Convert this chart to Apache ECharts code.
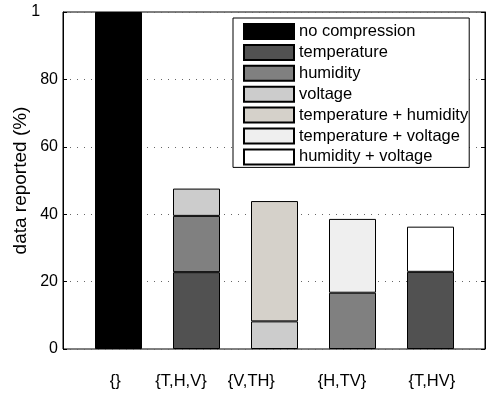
<!DOCTYPE html>
<html>
<head>
<meta charset="utf-8">
<script src="https://cdn.jsdelivr.net/npm/echarts@6/dist/echarts.min.js"></script>
<style>html,body{margin:0;padding:0;background:#fff}#c{width:486px;height:394px}</style>
</head>
<body>
<div id="c"></div>
<script>
// ---- data ----
const categories = ['{}', '{T,H,V}', '{V,TH}', '{H,TV}', '{T,HV}'];
const seriesNames = ['no compression', 'temperature', 'humidity', 'voltage',
  'temperature + humidity', 'temperature + voltage', 'humidity + voltage'];
const noCompression = [100, null, null, null, null];
const temperature   = [null, 22.8, null, null, 22.9];
const humidity      = [null, 16.7, null, 16.7, null];
const voltage       = [null, 8.1, 8.2, null, null];
const tempHumidity  = [null, null, 35.7, null, null];
const tempVoltage   = [null, null, null, 21.9, null];
const humVoltage    = [null, null, null, null, 13.4];
const yTicks = [0, 20, 40, 60, 80, 100];
// label anchor positions along the frame's x scale (bar k sits at k)
const xLabelAt = [0.97, 1.81, 2.71, 3.87, 5.02];

const seriesValues = [noCompression, temperature, humidity, voltage, tempHumidity, tempVoltage, humVoltage];
const colors = ['#000000', '#515151', '#808080', '#cccccc', '#d5d1ca', '#efefef', '#ffffff'];
const FONT = 'Liberation Sans, Arial, Helvetica, sans-serif';

const chart = echarts.init(document.getElementById('c'), null, {renderer: 'canvas'});
chart.setOption({
  animation: false,
  backgroundColor: '#fff',
  textStyle: {fontFamily: FONT},
  grid: [
    // frame / axes grid
    {left: 63, right: 1, top: 12, bottom: 45, show: true, borderColor: '#000', borderWidth: 1, containLabel: false},
    // bar grid (x range 0.5..5.5 of the frame scale 0.3..5.7)
    {left: 79.5, width: 390, top: 12, bottom: 45, containLabel: false}
  ],
  legend: {
    orient: 'vertical', left: 233, top: 18,
    data: seriesNames,
    icon: 'rect', itemWidth: 50, itemHeight: 15, itemGap: 3.9,
    padding: [5, 1, 2, 10],
    borderColor: '#000', borderWidth: 1, backgroundColor: '#fff',
    textStyle: {fontSize: 16.5, color: '#000', fontFamily: FONT}
  },
  xAxis: [{
    gridIndex: 0, type: 'value', min: 0.3, max: 5.7,
    axisLine: {show: false}, axisTick: {show: false}, splitLine: {show: false},
    axisLabel: {
      customValues: xLabelAt, fontSize: 16.5, color: '#000', margin: 24, fontFamily: FONT,
      formatter: function (v) {
        let best = 0, d = 1e9;
        xLabelAt.forEach(function (p, i) { if (Math.abs(p - v) < d) { d = Math.abs(p - v); best = i; } });
        return categories[best];
      }
    }
  }, {
    gridIndex: 1, type: 'category', data: categories, boundaryGap: true,
    axisLine: {show: false}, axisTick: {show: false}, axisLabel: {show: false}, splitLine: {show: false}
  }],
  yAxis: [{
    gridIndex: 0, type: 'value', min: 0, max: 100, interval: 20,
    name: 'data reported (%)', nameLocation: 'middle', nameGap: 33, nameMoveOverlap: false,
    nameTextStyle: {fontSize: 19, color: '#000', fontFamily: FONT},
    axisLine: {show: true, lineStyle: {color: '#000'}},
    axisTick: {show: true, inside: true, length: 4, lineStyle: {color: '#000'}},
    splitLine: {show: true, lineStyle: {color: '#666', type: [1, 6], width: 1}},
    axisLabel: {
      fontSize: 16, color: '#000', margin: 5, fontFamily: FONT,
      formatter: function (v) { return v === 100 ? '{a|1}{h|00}' : String(v); },
      rich: {a: {fontSize: 16, color: '#000', fontFamily: FONT}, h: {fontSize: 16, color: 'rgba(0,0,0,0)', fontFamily: FONT}}
    }
  }, {
    gridIndex: 0, type: 'value', min: 0, max: 100, interval: 20, position: 'right',
    axisLine: {show: true, lineStyle: {color: '#000'}},
    axisTick: {show: true, inside: true, length: 4, lineStyle: {color: '#000'}},
    axisLabel: {show: false}, splitLine: {show: false}
  }, {
    gridIndex: 1, type: 'value', min: 0, max: 100, interval: 20,
    axisLine: {show: false}, axisTick: {show: false}, axisLabel: {show: false}, splitLine: {show: false}
  }],
  series: seriesNames.map(function (name, si) {
    return {
      name: name, type: 'bar', stack: 'total', barWidth: 47,
      xAxisIndex: 1, yAxisIndex: 2,
      itemStyle: {color: colors[si], borderColor: '#000', borderWidth: 1},
      emphasis: {disabled: true},
      data: seriesValues[si]
    };
  })
});
</script>
</body>
</html>
